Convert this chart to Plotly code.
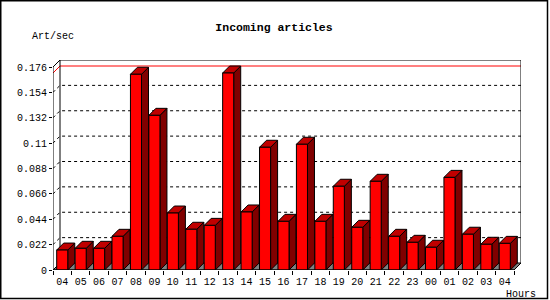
import plotly.graph_objects as go

# ---------------- data ----------------
hours = ["04", "05", "06", "07", "08", "09", "10", "11", "12", "13", "14", "15",
         "16", "17", "18", "19", "20", "21", "22", "23", "00", "01", "02", "03", "04"]
art_per_sec = [0.0173, 0.0188, 0.0188, 0.0292, 0.1697, 0.1341, 0.0494, 0.0353,
               0.0387, 0.1708, 0.0503, 0.1064, 0.0422, 0.1090, 0.0422, 0.0726,
               0.0370, 0.0769, 0.0292, 0.0240, 0.0197, 0.0803, 0.0310, 0.0223,
               0.0231]
ytick_values = [0, 0.022, 0.044, 0.066, 0.088, 0.11, 0.132, 0.154, 0.176]
ytick_labels = ["0", "0.022", "0.044", "0.066", "0.088", "0.11", "0.132", "0.154", "0.176"]

# ---------------- geometry ----------------
W, H = 550, 300
L, R, T, B = 53, 29, 60, 30
pw, ph = W - L - R, H - T - B
n = len(hours)
ymax = ytick_values[-1]
depth_px = 7
dx = depth_px * n / (pw - depth_px)          # depth in x units
dy = depth_px * ymax / (ph - depth_px)       # depth in y units
bw = 0.6
h = bw / 2
x0, x1 = -0.5, n - 0.5

FONT = "Liberation Mono"
RED, TOP, SIDE, GRAY = "#ff0000", "#c00000", "#800000", "#808080"

fig = go.Figure()

# back-wall grid lines (dashed), with side-wall diagonals
gx, gy = [], []
for v in ytick_values[1:-1]:
    gx += [x0, x0 + dx, x1 + dx, None]
    gy += [v, v + dy, v + dy, None]
fig.add_trace(go.Scatter(x=gx, y=gy, mode="lines", cliponaxis=False,
                         line=dict(color="black", width=1, dash="3px,3px"),
                         hoverinfo="skip", showlegend=False))

# max line (red)
m = max(art_per_sec)
fig.add_trace(go.Scatter(x=[x0, x0 + dx, x1 + dx], y=[m, m + dy, m + dy],
                         mode="lines", cliponaxis=False,
                         line=dict(color=RED, width=1),
                         hoverinfo="skip", showlegend=False))

# walls outline
fig.add_trace(go.Scatter(
    x=[x0 + dx, x0 + dx, x1 + dx, x1 + dx],
    y=[dy, ymax + dy, ymax + dy, dy],
    mode="lines", cliponaxis=False, line=dict(color="black", width=1),
    hoverinfo="skip", showlegend=False))

# floor
fig.add_trace(go.Scatter(
    x=[x0, x1, x1 + dx, x0 + dx, x0], y=[0, 0, dy, dy, 0],
    mode="lines", fill="toself", fillcolor=GRAY, cliponaxis=False,
    line=dict(color="black", width=1), hoverinfo="skip", showlegend=False))

# bars: side, top, front faces
sx, sy, tx, ty, fx, fy = [], [], [], [], [], []
for i, v in enumerate(art_per_sec):
    sx += [i + h, i + h + dx, i + h + dx, i + h, i + h, None]
    sy += [0, dy, v + dy, v, 0, None]
    tx += [i - h, i + h, i + h + dx, i - h + dx, i - h, None]
    ty += [v, v, v + dy, v + dy, v, None]
    fx += [i - h, i + h, i + h, i - h, i - h, None]
    fy += [0, 0, v, v, 0, None]
for xs, ys, col in [(sx, sy, SIDE), (tx, ty, TOP), (fx, fy, RED)]:
    fig.add_trace(go.Scatter(x=xs, y=ys, mode="lines", fill="toself",
                             fillcolor=col, cliponaxis=False,
                             line=dict(color="black", width=1),
                             hoverinfo="skip", showlegend=False))

# front axis lines
fig.add_trace(go.Scatter(
    x=[x0 + dx, x0, x0, x1, x1 + dx],
    y=[ymax + dy, ymax, 0, 0, dy],
    mode="lines", cliponaxis=False, line=dict(color="black", width=1),
    hoverinfo="skip", showlegend=False))

fig.update_layout(
    width=W, height=H,
    margin=dict(l=L, r=R, t=T, b=B),
    paper_bgcolor="white", plot_bgcolor="white",
    font=dict(family=FONT, size=10, color="black"),
    title=dict(text="<b>Incoming articles</b>", x=274 / W, y=1 - 27 / H,
               xanchor="center", yanchor="middle",
               font=dict(family=FONT, size=11.5, color="black")),
    xaxis=dict(range=[x0, x1 + dx], showgrid=False, zeroline=False, showline=False,
               tickmode="array", tickvals=list(range(n)), ticktext=hours,
               ticks="outside", ticklen=2, tickcolor="rgba(0,0,0,0)",
               minor=dict(tickmode="array", tickvals=[i - 0.5 for i in range(n + 1)],
                          ticks="outside", ticklen=4, tickcolor="black", tickwidth=1,
                          showgrid=False),
               fixedrange=True),
    yaxis=dict(range=[0, ymax + dy], showgrid=False, zeroline=False, showline=False,
               tickmode="array", tickvals=ytick_values, ticktext=ytick_labels,
               ticks="outside", ticklen=3, tickcolor="black", tickwidth=1,
               fixedrange=True),
    annotations=[
        dict(text="Art/sec", xref="paper", yref="paper",
             x=(30 - L) / pw, y=(H - B - 37) / ph, xanchor="left", yanchor="middle",
             showarrow=False, font=dict(family=FONT, size=10, color="black")),
        dict(text="Hours", xref="paper", yref="paper",
             x=(504 - L) / pw, y=(H - B - 287) / ph, xanchor="left", yanchor="top",
             showarrow=False, font=dict(family=FONT, size=10, color="black")),
    ],
    shapes=[dict(type="rect", xref="paper", yref="paper",
                 x0=(0.75 - L) / pw, x1=(547.5 - L) / pw,
                 y0=(H - B - 298.5) / ph, y1=(H - B - 0.75) / ph,
                 line=dict(color="black", width=1.5), layer="above")],
    showlegend=False,
)

fig.write_html("out.html", config={"displayModeBar": False, "staticPlot": True})
